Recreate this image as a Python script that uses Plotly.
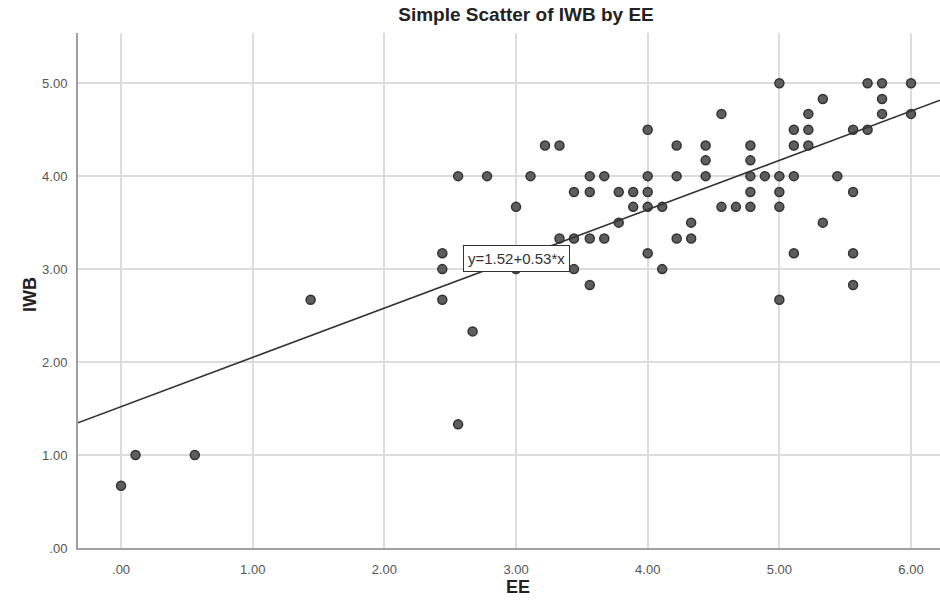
import plotly.graph_objects as go

# Data (EE, IWB)
ee = [0.00, 0.11, 0.56, 1.44, 2.44, 2.44, 2.44, 2.56, 2.56, 2.67,
      2.78, 3.00, 3.00, 3.11, 3.22, 3.33, 3.33, 3.44, 3.44, 3.44,
      3.56, 3.56, 3.56, 3.56, 3.67, 3.67, 3.78, 3.78, 3.89, 3.89,
      4.00, 4.00, 4.00, 4.00, 4.00, 4.11, 4.11, 4.22, 4.22, 4.22,
      4.33, 4.33, 4.44, 4.44, 4.44, 4.56, 4.56, 4.67, 4.78, 4.78,
      4.78, 4.78, 4.78, 4.89, 5.00, 5.00, 5.00, 5.00, 5.00, 5.11,
      5.11, 5.11, 5.11, 5.22, 5.22, 5.22, 5.33, 5.33, 5.44, 5.56,
      5.56, 5.56, 5.56, 5.67, 5.67, 5.78, 5.78, 5.78, 6.00, 6.00]
iwb = [0.67, 1.00, 1.00, 2.67, 3.17, 3.00, 2.67, 4.00, 1.33, 2.33,
       4.00, 3.67, 3.00, 4.00, 4.33, 4.33, 3.33, 3.83, 3.33, 3.00,
       4.00, 3.83, 3.33, 2.83, 4.00, 3.33, 3.83, 3.50, 3.83, 3.67,
       4.50, 4.00, 3.83, 3.67, 3.17, 3.67, 3.00, 4.33, 4.00, 3.33,
       3.50, 3.33, 4.33, 4.17, 4.00, 4.67, 3.67, 3.67, 4.33, 4.17,
       4.00, 3.83, 3.67, 4.00, 5.00, 4.00, 3.83, 3.67, 2.67, 4.50,
       4.33, 4.00, 3.17, 4.67, 4.50, 4.33, 4.83, 3.50, 4.00, 4.50,
       3.83, 3.17, 2.83, 5.00, 4.50, 5.00, 4.83, 4.67, 5.00, 4.67]

intercept = 1.52
slope = 0.53
fit_label = "y=1.52+0.53*x"

x_ticks = [0, 1, 2, 3, 4, 5, 6]
x_tick_labels = [".00", "1.00", "2.00", "3.00", "4.00", "5.00", "6.00"]
y_ticks = [0, 1, 2, 3, 4, 5]
y_tick_labels = [".00", "1.00", "2.00", "3.00", "4.00", "5.00"]

x_range = [-0.327, 6.22]
y_range = [0, 5.54]

FONT = "Liberation Sans, Arial, sans-serif"

L, R, T, B = 78, 0, 33, 67
W, H = 940, 615
plot_w = W - L - R
plot_h = H - T - B

fig = go.Figure()

fig.add_trace(go.Scatter(
    x=ee, y=iwb, mode="markers",
    marker=dict(size=9, color="#5e5e5e", line=dict(color="#333333", width=1.5)),
    showlegend=False, hoverinfo="x+y"))

line_x = [x_range[0], x_range[1]]
line_y = [intercept + slope * v for v in line_x]
fig.add_trace(go.Scatter(
    x=line_x, y=line_y, mode="lines",
    line=dict(color="#333333", width=1.6),
    showlegend=False, hoverinfo="skip"))

fig.add_annotation(
    x=3.0, y=3.11, xref="x", yref="y", text=fit_label, showarrow=False,
    font=dict(family=FONT, size=15, color="#333333"),
    bgcolor="white", bordercolor="#333333", borderwidth=1, borderpad=4)

fig.add_annotation(
    x=(18 - L) / plot_w, y=(H - B - 295) / plot_h, xref="paper", yref="paper",
    text="<b>IWB</b>", showarrow=False, textangle=-90,
    font=dict(family=FONT, size=18, color="#222222"))
fig.add_annotation(
    x=(518 - L) / plot_w, y=(H - B - 599) / plot_h, xref="paper", yref="paper",
    text="<b>EE</b>", showarrow=False,
    font=dict(family=FONT, size=18, color="#222222"))

fig.update_layout(
    width=W, height=H,
    margin=dict(l=L, r=R, t=T, b=B),
    paper_bgcolor="white", plot_bgcolor="white",
    title=dict(text="<b>Simple Scatter of IWB by EE</b>", x=526 / W, xanchor="center",
               y=1 - 14 / H, yanchor="middle",
               font=dict(family=FONT, size=19, color="#222222")),
    font=dict(family=FONT, size=13, color="#555555"),
    xaxis=dict(range=x_range, tickvals=x_ticks, ticktext=x_tick_labels,
               showgrid=True, gridcolor="#dcdcdc", gridwidth=2,
               zeroline=False, showline=True, linecolor="#a0a0a0", linewidth=2,
               ticks="", tickfont=dict(size=13, color="#555555"), ticklabelstandoff=8),
    yaxis=dict(range=y_range, tickvals=y_ticks, ticktext=y_tick_labels,
               showgrid=True, gridcolor="#dcdcdc", gridwidth=2,
               zeroline=False, showline=True, linecolor="#a0a0a0", linewidth=2,
               ticks="", tickfont=dict(size=13, color="#555555"), ticklabelstandoff=6),
)

fig.write_html("out.html")
